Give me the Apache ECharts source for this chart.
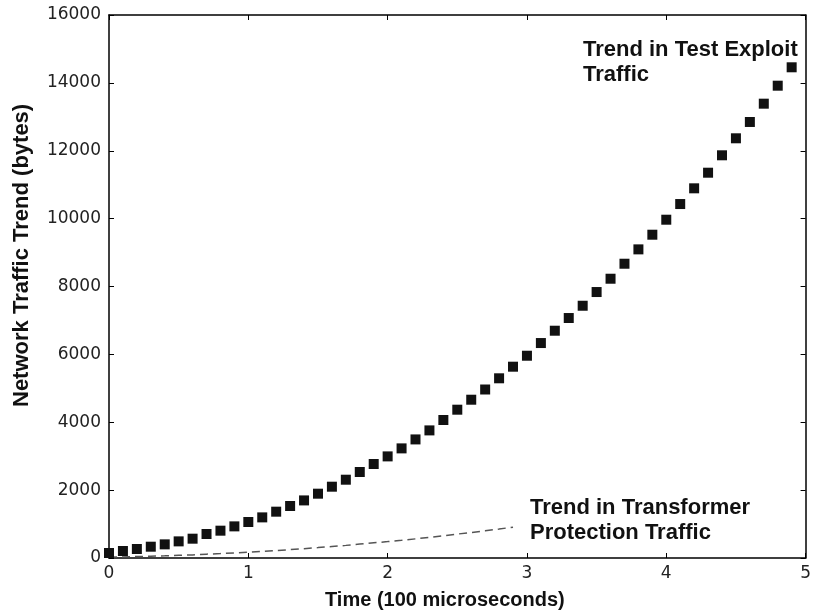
<!DOCTYPE html>
<html>
<head>
<meta charset="utf-8">
<script src="https://cdn.jsdelivr.net/npm/echarts@6/dist/echarts.min.js"></script>
<style>html,body{margin:0;padding:0;background:#fff}#c{width:814px;height:616px}</style>
</head>
<body>
<div id="c"></div>
<script>
var time = [0,0.1,0.2,0.3,0.4,0.5,0.6,0.7,0.8,0.9,1.0,1.1,1.2,1.3,1.4,1.5,1.6,1.7,1.8,1.9,2.0,2.1,2.2,2.3,2.4,2.5,2.6,2.7,2.8,2.9,3.0,3.1,3.2,3.3,3.4,3.5,3.6,3.7,3.8,3.9,4.0,4.1,4.2,4.3,4.4,4.5,4.6,4.7,4.8,4.9];
var exploitTraffic = [147,206,265,333,402,490,569,707,805,932,1061,1197,1365,1532,1697,1895,2101,2307,2534,2770,2994,3230,3494,3760,4066,4370,4664,4965,5295,5637,5960,6334,6697,7071,7433,7837,8229,8671,9094,9526,9968,10430,10893,11353,11866,12367,12848,13387,13917,14459];
var protectionTime = [0,0.1,0.2,0.3,0.4,0.5,0.6,0.7,0.8,0.9,1.0,1.1,1.2,1.3,1.4,1.5,1.6,1.7,1.8,1.9,2.0,2.1,2.2,2.3,2.4,2.5,2.6,2.7,2.8,2.9];
var protectionTraffic = [25,33,43,54,65,79,92,114,130,150,171,193,220,247,274,306,339,372,409,447,483,521,564,606,656,705,752,800,854,909];
var xTicks = [0,1,2,3,4,5];
var yTicks = [0,2000,4000,6000,8000,10000,12000,14000,16000];

var exploitData = time.map(function(t,i){return [t, exploitTraffic[i]];});
var protData = protectionTime.map(function(t,i){return [t, protectionTraffic[i]];});

var chart = echarts.init(document.getElementById('c'), null, {renderer:'canvas'});
var tickStyle = {show:true, inside:true, length:5, lineStyle:{color:'#000', width:1}};
var lineStyle = {show:true, onZero:false, lineStyle:{color:'#000', width:1.5}};
var fmt = function(v){ return String(v); };
chart.setOption({
  animation:false,
  backgroundColor:'#fff',
  grid:{left:109, right:4, top:15, bottom:58, containLabel:false},
  xAxis:[{
    type:'value', min:xTicks[0], max:xTicks[xTicks.length-1], interval:1,
    axisLine:lineStyle, axisTick:tickStyle, splitLine:{show:false},
    axisLabel:{margin:7, fontFamily:'DejaVu Sans', fontSize:17, color:'#222', formatter:fmt}
  },{
    type:'value', position:'top', min:xTicks[0], max:xTicks[xTicks.length-1], interval:1,
    axisLine:lineStyle, axisTick:tickStyle, splitLine:{show:false}, axisLabel:{show:false}
  }],
  yAxis:[{
    type:'value', min:yTicks[0], max:yTicks[yTicks.length-1], interval:2000,
    axisLine:lineStyle, axisTick:tickStyle, splitLine:{show:false},
    axisLabel:{margin:8, fontFamily:'DejaVu Sans', fontSize:17, color:'#222', formatter:fmt}
  },{
    type:'value', position:'right', min:yTicks[0], max:yTicks[yTicks.length-1], interval:2000,
    axisLine:lineStyle, axisTick:tickStyle, splitLine:{show:false}, axisLabel:{show:false}
  }],
  series:[{
    type:'line', data:protData, showSymbol:false, symbol:'none',
    lineStyle:{color:'#555', width:1.5, type:[8,5]}, z:2
  },{
    type:'scatter', data:exploitData, symbol:'rect', symbolSize:10,
    itemStyle:{color:'#111', opacity:1}, z:3
  }],
  graphic:[
    {type:'text', left:325, top:590, style:{text:'Time (100 microseconds)', font:'bold 20px "Liberation Sans"', fill:'#111'}},
    {type:'text', x:11, y:407, rotation:Math.PI/2, style:{text:'Network Traffic Trend (bytes)', font:'bold 22px "Liberation Sans"', fill:'#111', textVerticalAlign:'top'}},
    {type:'text', left:583, top:37, style:{text:'Trend in Test Exploit\nTraffic', font:'bold 22px "Liberation Sans"', lineHeight:25, fill:'#111'}},
    {type:'text', left:530, top:495, style:{text:'Trend in Transformer\nProtection Traffic', font:'bold 22px "Liberation Sans"', lineHeight:25, fill:'#111'}}
  ]
});
</script>
</body>
</html>
